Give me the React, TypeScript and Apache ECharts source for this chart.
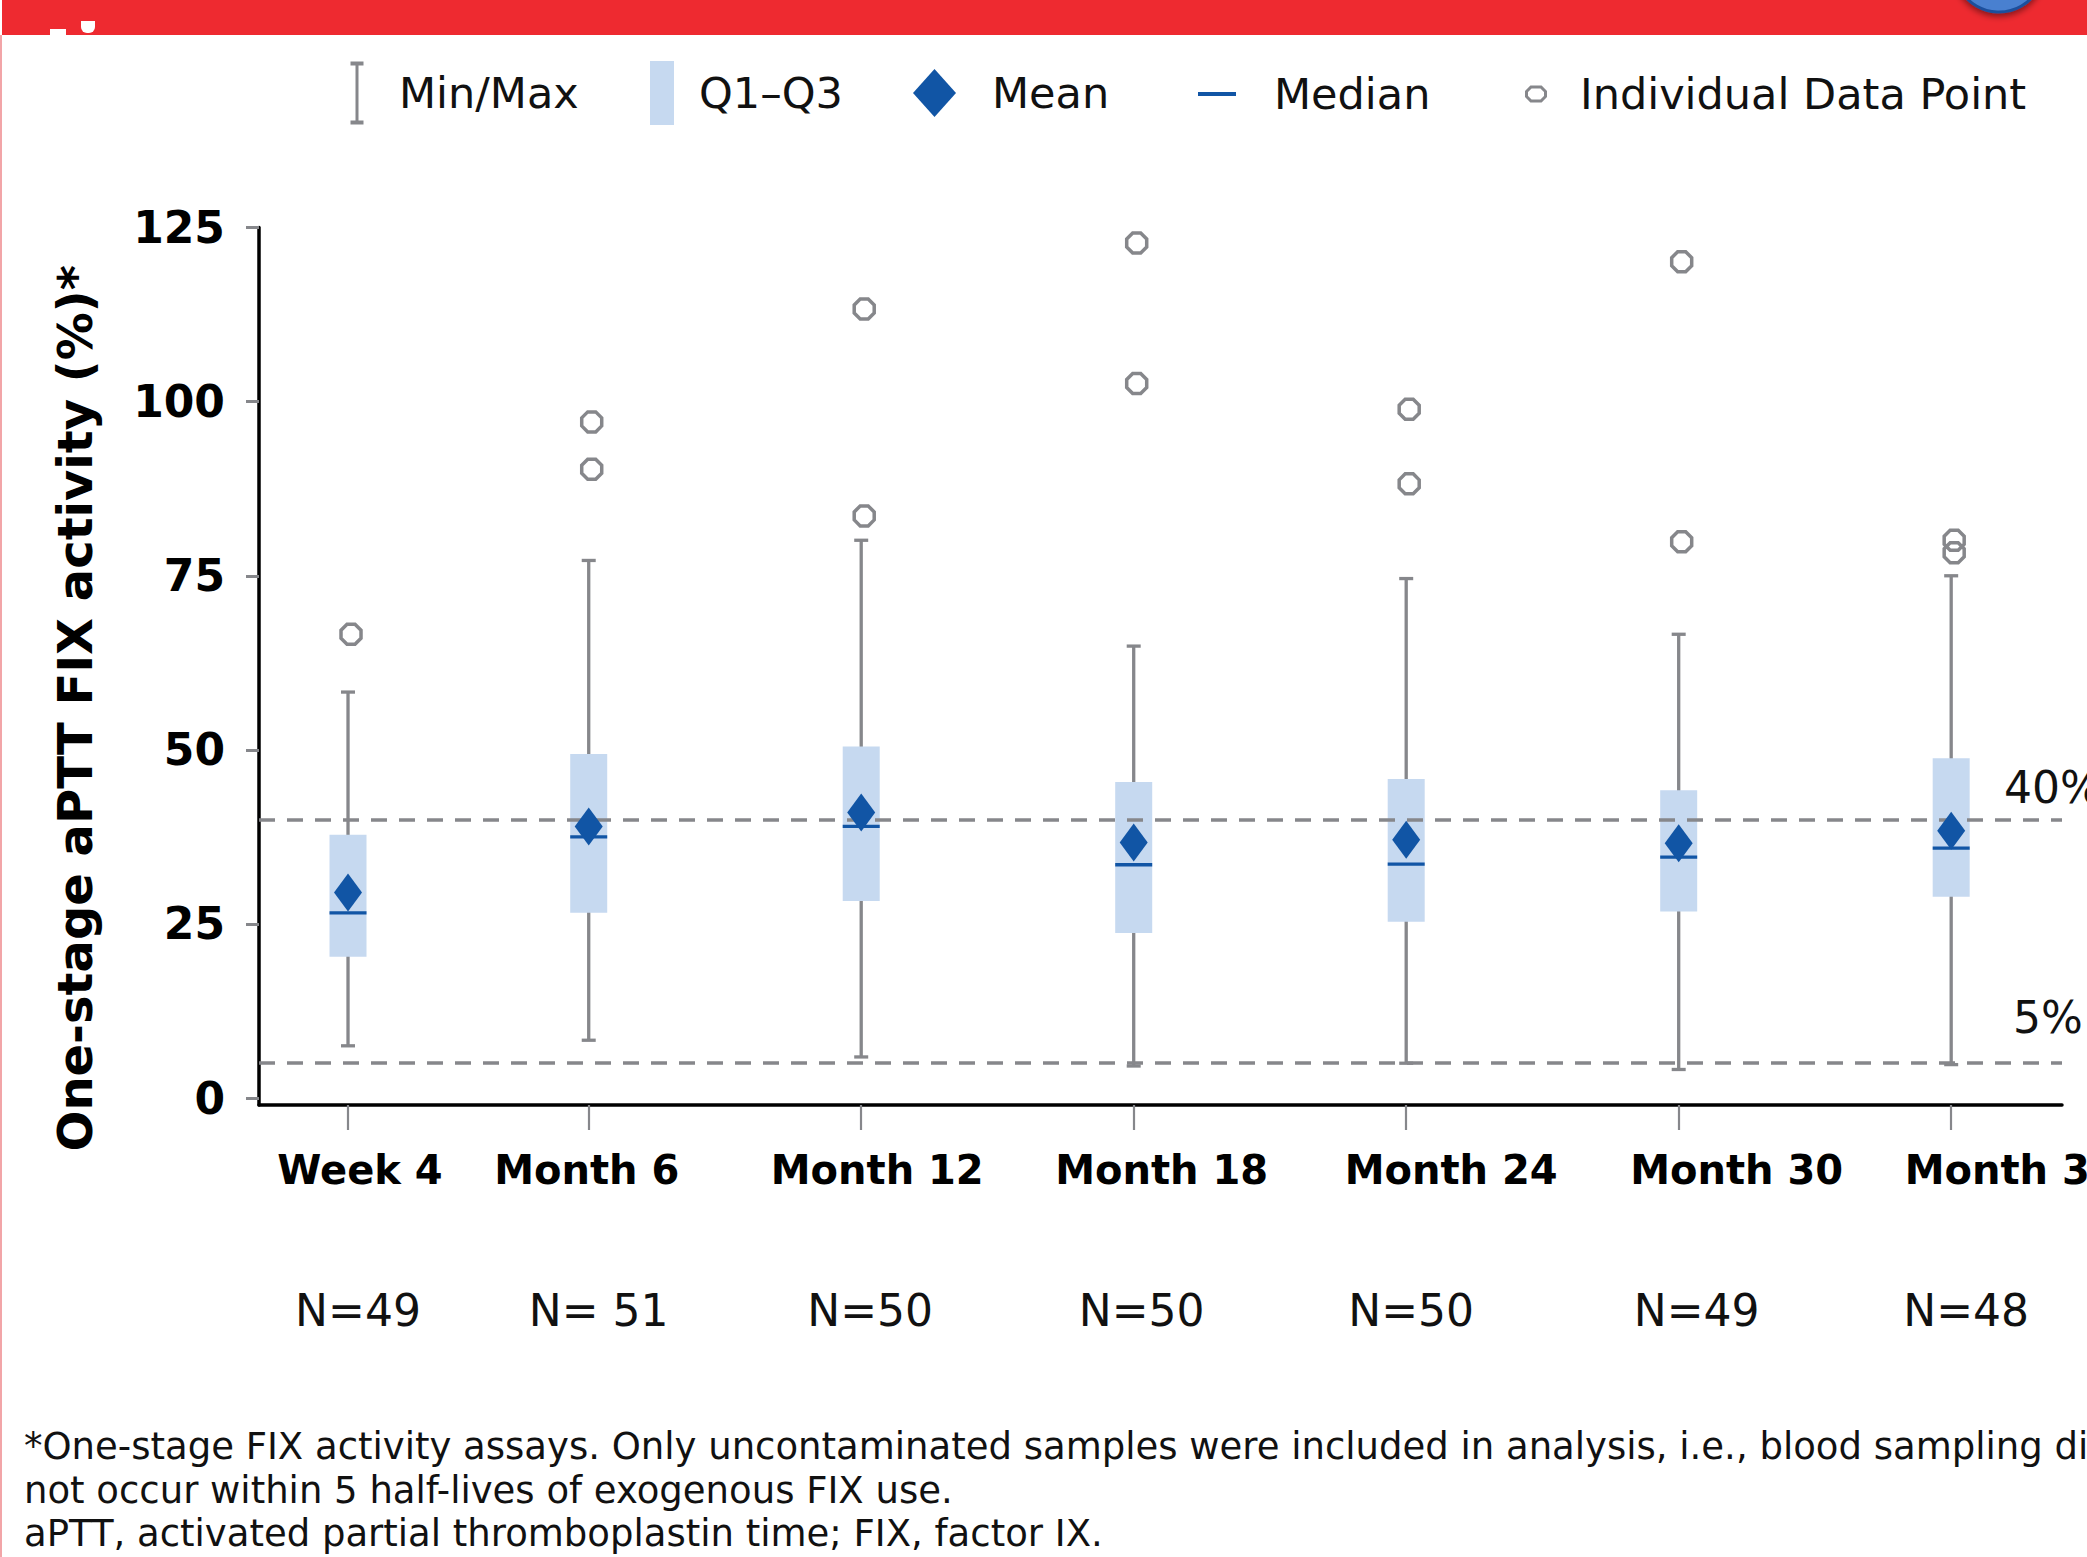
import React, { useEffect, useRef } from "react";
import * as echarts from "echarts";

// ---------------- data ----------------
const visitLabels = ["Week 4", "Month 6", "Month 12", "Month 18", "Month 24", "Month 30", "Month 36"];
const visitMonths = [0.7, 6, 12, 18, 24, 30, 36];
const nLabels = ["N=49", "N= 51", "N=50", "N=50", "N=50", "N=49", "N=48"];
const minValues = [7.5, 8.3, 5.9, 4.6, 5.0, 4.1, 4.8];
const q1Values = [20.3, 26.6, 28.3, 23.7, 25.3, 26.8, 28.9];
const medianValues = [26.6, 37.5, 39.0, 33.5, 33.6, 34.6, 35.9];
const meanValues = [29.5, 39.0, 41.0, 36.7, 37.1, 36.6, 38.4];
const q3Values = [37.8, 49.4, 50.5, 45.4, 45.8, 44.2, 48.8];
const maxValues = [58.3, 77.2, 80.1, 64.9, 74.6, 66.6, 75.0];
const outlierValues = [
  [66.6],
  [97.1, 90.3],
  [113.3, 83.6],
  [122.8, 102.6],
  [98.9, 88.2],
  [120.1, 79.9],
  [80.1, 78.3],
];
const referenceLevels = [40, 5];
const referenceLabels = ["40%", "5%"];
const yTickValues = [0, 25, 50, 75, 100, 125];
const yAxisTitle = "One-stage aPTT FIX activity (%)*";
const legendNames = ["Min/Max", "Q1\u2013Q3", "Mean", "Median", "Individual Data Point"];
const footnote =
  "*One-stage FIX activity assays. Only uncontaminated samples were included in analysis, i.e., blood sampling did\n" +
  "not occur within 5 half-lives of exogenous FIX use.\n" +
  "aPTT, activated partial thromboplastin time; FIX, factor IX.";

// ---------------- styles ----------------
const FONT = "DejaVu Sans";
const GRAY = "#86878b";
const BOX_BLUE = "#c6d9f0";
const DARK_BLUE = "#1155a5";
const TEXT = "#111111";
const RED = "#ee2a30";

const X_MIN = -1.26;
const X_MAX = 38.44;
const Y_MIN = -1;
const Y_MAX = 125;

const visitShift = [12, -2, 16, 28, 45, 58, 60];
const nShift = [10, 10, 9, 8, 5, 18, 15];

const OCTAGON = "path://M6,0 L14,0 L20,6 L20,14 L14,20 L6,20 L0,14 L0,6 Z";
const ICON_IBEAM = "path://M0,0 H13 V4 H8 V59 H13 V63 H0 V59 H5 V4 H0 Z";
const ICON_BOX = "path://M0,0 H24 V64 H0 Z";
const ICON_DIAMOND = "path://M21.5,0 L43,24 L21.5,48 L0,24 Z";
const ICON_MEDIAN = "path://M0,0 H38 V4 H0 Z";
const ICON_POINT = "path://M4.5,0 H14.5 L19,4.5 V9.5 L14.5,14 H4.5 L0,9.5 V4.5 Z";

function shiftPad(s: number) {
  return s >= 0 ? [0, 0, 0, 2 * s] : [0, -2 * s, 0, 0];
}

function idxOf(value: number) {
  return visitMonths.findIndex((m) => Math.abs(m - value) < 0.01);
}

function buildOption() {
  const visitRich: any = {};
  visitShift.forEach((s, i) => {
    visitRich["v" + i] = {
      padding: shiftPad(s),
      fontSize: 40,
      fontWeight: "bold",
      fontFamily: FONT,
      color: "#000",
    };
  });
  const nRich: any = {};
  nShift.forEach((s, i) => {
    nRich["n" + i] = {
      padding: shiftPad(s),
      fontSize: 44,
      fontFamily: FONT,
      color: TEXT,
    };
  });

  const whiskerData = visitMonths.map((m, i) => [m, minValues[i], maxValues[i]]);
  const boxData = visitMonths.map((m, i) => [m, q1Values[i], q3Values[i]]);
  const medianData = visitMonths.map((m, i) => [m, medianValues[i]]);
  const meanData = visitMonths.map((m, i) => [m, meanValues[i]]);
  const outlierData: number[][] = [];
  outlierValues.forEach((vals, i) => vals.forEach((v) => outlierData.push([visitMonths[i], v])));

  const BOX_W = 37;
  const CAP_W = 14;

  const legendCommon = {
    selectedMode: false,
    orient: "horizontal",
    padding: 0,
    itemGap: 0,
    textStyle: { fontSize: 43, color: TEXT, fontFamily: FONT },
  };

  return {
    animation: false,
    backgroundColor: "#ffffff",
    textStyle: { fontFamily: FONT },
    grid: {
      left: 259,
      right: 25,
      top: 227.6,
      bottom: 452,
      containLabel: false,
      outerBoundsMode: "none",
    },
    legend: [
      {
        ...legendCommon,
        left: 350.5,
        top: 61.5,
        itemWidth: 74,
        itemHeight: 63,
        data: [{ name: legendNames[0], icon: ICON_IBEAM, itemStyle: { color: GRAY, borderWidth: 0 } }],
      },
      {
        ...legendCommon,
        left: 650,
        top: 61,
        itemWidth: 64,
        itemHeight: 64,
        data: [{ name: legendNames[1], icon: ICON_BOX, itemStyle: { color: BOX_BLUE, borderWidth: 0 } }],
      },
      {
        ...legendCommon,
        left: 913,
        top: 69,
        itemWidth: 105,
        itemHeight: 48,
        data: [{ name: legendNames[2], icon: ICON_DIAMOND, itemStyle: { color: DARK_BLUE, borderWidth: 0 } }],
      },
      {
        ...legendCommon,
        left: 1198,
        top: 72.5,
        itemWidth: 104,
        itemHeight: 4,
        data: [{ name: legendNames[3], icon: ICON_MEDIAN, itemStyle: { color: DARK_BLUE, borderWidth: 0 } }],
      },
      {
        ...legendCommon,
        left: 1525,
        top: 72.5,
        itemWidth: 78,
        itemHeight: 14,
        data: [
          {
            name: legendNames[4],
            icon: ICON_POINT,
            itemStyle: { color: "rgba(0,0,0,0)", borderColor: GRAY, borderWidth: 3, opacity: 1 },
          },
        ],
      },
    ],
    xAxis: [
      {
        type: "value",
        position: "bottom",
        min: X_MIN,
        max: X_MAX,
        splitLine: { show: false },
        axisLine: { show: true, onZero: false, lineStyle: { color: "#000", width: 3.5 } },
        axisTick: {
          show: true,
          customValues: visitMonths,
          length: 25,
          lineStyle: { color: GRAY, width: 2.2 },
        },
        axisLabel: {
          show: true,
          customValues: visitMonths,
          margin: 44.5,
          fontSize: 40,
          fontWeight: "bold",
          fontFamily: FONT,
          color: "#000",
          hideOverlap: false,
          formatter: (value: number) => {
            const i = idxOf(value);
            return i >= 0 ? "{v" + i + "|" + visitLabels[i] + "}" : "";
          },
          rich: visitRich,
        },
      },
      {
        type: "value",
        position: "bottom",
        min: X_MIN,
        max: X_MAX,
        splitLine: { show: false },
        axisLine: { show: false, onZero: false },
        axisTick: { show: false },
        axisLabel: {
          show: true,
          customValues: visitMonths,
          margin: 183,
          fontSize: 44,
          fontFamily: FONT,
          color: TEXT,
          hideOverlap: false,
          formatter: (value: number) => {
            const i = idxOf(value);
            return i >= 0 ? "{n" + i + "|" + nLabels[i] + "}" : "";
          },
          rich: nRich,
        },
      },
    ],
    yAxis: {
      type: "value",
      min: Y_MIN,
      max: Y_MAX,
      name: yAxisTitle,
      nameLocation: "middle",
      nameRotate: 90,
      nameGap: 160,
      nameTextStyle: {
        fontSize: 48,
        fontWeight: "bold",
        color: "#000",
        fontFamily: FONT,
        padding: [0, 84, 0, 0],
      },
      splitLine: { show: false },
      axisLine: { show: true, onZero: false, lineStyle: { color: "#000", width: 3.5 } },
      axisTick: {
        show: true,
        customValues: yTickValues,
        length: 13,
        lineStyle: { color: GRAY, width: 3 },
      },
      axisLabel: {
        show: true,
        customValues: yTickValues,
        margin: 34,
        fontSize: 44,
        fontWeight: "bold",
        fontFamily: FONT,
        color: "#000",
      },
    },
    series: [
      {
        name: legendNames[0],
        type: "custom",
        z: 2,
        data: whiskerData,
        encode: { x: 0, y: [1, 2] },
        itemStyle: { color: GRAY },
        renderItem: (params: any, api: any) => {
          const x = api.value(0);
          const lo = api.coord([x, api.value(1)]);
          const hi = api.coord([x, api.value(2)]);
          const style = { stroke: GRAY, lineWidth: 3.3, fill: null };
          return {
            type: "group",
            children: [
              { type: "line", shape: { x1: lo[0], y1: lo[1], x2: hi[0], y2: hi[1] }, style },
              { type: "line", shape: { x1: hi[0] - CAP_W / 2, y1: hi[1], x2: hi[0] + CAP_W / 2, y2: hi[1] }, style },
              { type: "line", shape: { x1: lo[0] - CAP_W / 2, y1: lo[1], x2: lo[0] + CAP_W / 2, y2: lo[1] }, style },
            ],
          };
        },
        markLine: {
          silent: true,
          symbol: ["none", "none"],
          lineStyle: { color: GRAY, width: 3.5, type: [16, 12], opacity: 1 },
          data: [
            {
              yAxis: referenceLevels[0],
              label: {
                show: true,
                position: "end",
                distance: -58,
                formatter: referenceLabels[0] + "\n",
                lineHeight: 64,
                fontSize: 44,
                fontFamily: FONT,
                color: TEXT,
              },
            },
            {
              yAxis: referenceLevels[1],
              label: {
                show: true,
                position: "end",
                distance: -49,
                formatter: referenceLabels[1] + "\n",
                lineHeight: 92,
                fontSize: 44,
                fontFamily: FONT,
                color: TEXT,
              },
            },
          ],
        },
      },
      {
        name: legendNames[1],
        type: "custom",
        z: 3,
        data: boxData,
        encode: { x: 0, y: [1, 2] },
        itemStyle: { color: BOX_BLUE },
        renderItem: (params: any, api: any) => {
          const x = api.value(0);
          const lo = api.coord([x, api.value(1)]);
          const hi = api.coord([x, api.value(2)]);
          return {
            type: "rect",
            shape: { x: lo[0] - BOX_W / 2, y: hi[1], width: BOX_W, height: lo[1] - hi[1] },
            style: { fill: BOX_BLUE },
          };
        },
      },
      {
        name: legendNames[3],
        type: "custom",
        z: 4,
        data: medianData,
        encode: { x: 0, y: 1 },
        itemStyle: { color: DARK_BLUE },
        renderItem: (params: any, api: any) => {
          const p = api.coord([api.value(0), api.value(1)]);
          return {
            type: "line",
            shape: { x1: p[0] - BOX_W / 2, y1: p[1], x2: p[0] + BOX_W / 2, y2: p[1] },
            style: { stroke: DARK_BLUE, lineWidth: 3.3 },
          };
        },
      },
      {
        name: legendNames[2],
        type: "scatter",
        z: 5,
        data: meanData,
        symbol: "diamond",
        symbolSize: [28, 38],
        itemStyle: { color: DARK_BLUE, opacity: 1 },
      },
      {
        name: legendNames[4],
        type: "scatter",
        z: 6,
        data: outlierData,
        symbol: OCTAGON,
        symbolSize: 20,
        symbolOffset: [3, 0],
        itemStyle: { color: "rgba(0,0,0,0)", borderColor: GRAY, borderWidth: 3.5, opacity: 1 },
      },
    ],
    graphic: [
      { type: "rect", z: 100, shape: { x: 2, y: 0, width: 2085, height: 35 }, style: { fill: RED } },
      { type: "rect", z: 101, shape: { x: 50, y: 29, width: 16, height: 6 }, style: { fill: "#ffffff" } },
      {
        type: "rect",
        z: 101,
        shape: { x: 81, y: 21, width: 14, height: 12, r: [0, 0, 6, 6] },
        style: { fill: "#ffffff" },
      },
      {
        type: "circle",
        z: 102,
        shape: { cx: 1999, cy: -33, r: 45 },
        style: {
          fill: "#4a80d0",
          stroke: "#1e4f9c",
          lineWidth: 3,
          shadowBlur: 6,
          shadowColor: "rgba(0,0,0,0.45)",
          shadowOffsetY: 3,
        },
      },
      { type: "rect", z: 100, shape: { x: 0, y: 35, width: 2, height: 1522 }, style: { fill: "#f2a5a8" } },
      {
        type: "text",
        z: 100,
        x: 24,
        y: 1425,
        style: {
          text: footnote,
          fontSize: 37,
          lineHeight: 43.5,
          fontFamily: FONT,
          fill: TEXT,
          align: "left",
          verticalAlign: "top",
        },
      },
    ],
  };
}

export default function App() {
  const ref = useRef<HTMLDivElement>(null);
  useEffect(() => {
    if (!ref.current) return;
    const chart = echarts.init(ref.current, null, { renderer: "svg" });
    chart.setOption(buildOption() as any);
    return () => chart.dispose();
  }, []);
  return (
    <div
      ref={ref}
      style={{ position: "absolute", left: 0, top: 0, width: 2087, height: 1557, background: "#fff" }}
    />
  );
}
